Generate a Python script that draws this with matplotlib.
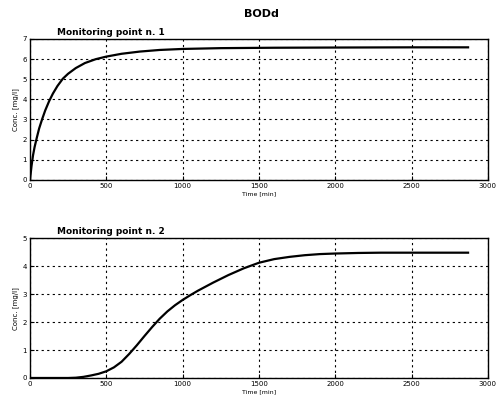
import numpy as np
import matplotlib.pyplot as plt

# BODd concentration, monitoring point 1
time_p1 = [0, 10, 20, 30, 45, 60, 80, 100, 125, 150, 180, 215, 250, 300, 360, 430,
           500, 600, 720, 850, 1000, 1250, 1600, 2000, 2500, 2870]
conc_p1 = [0, 0.68, 1.22, 1.62, 2.1, 2.55, 3.02, 3.45, 3.9, 4.28, 4.66, 5.02, 5.27,
           5.55, 5.8, 5.99, 6.12, 6.26, 6.37, 6.45, 6.5, 6.54, 6.56, 6.57, 6.58, 6.58]

# BODd concentration, monitoring point 2
time_p2 = [0, 250, 300, 350, 400, 450, 500, 550, 600, 650, 700, 750, 800, 850, 900,
           950, 1000, 1050, 1100, 1200, 1300, 1400, 1500, 1600, 1700, 1800, 1900,
           2000, 2150, 2300, 2870]
conc_p2 = [0, 0, 0.01, 0.04, 0.09, 0.15, 0.24, 0.38, 0.58, 0.86, 1.17, 1.5, 1.82,
           2.12, 2.38, 2.6, 2.79, 2.96, 3.12, 3.41, 3.68, 3.92, 4.12, 4.25, 4.33,
           4.39, 4.43, 4.45, 4.47, 4.48, 4.48]

xticks = np.arange(0, 3001, 500)

plt.rcParams['font.family'] = 'DejaVu Sans'
fig = plt.figure(figsize=(5.03, 4.05), dpi=100)
fig.text(0.52, 0.965, 'BODd', ha='center', va='center', fontsize=8, fontweight='bold')

panels = [
    ([0.0596, 0.556, 0.9104, 0.348], time_p1, conc_p1, 7, 'Monitoring point n. 1'),
    ([0.0596, 0.0667, 0.9104, 0.3453], time_p2, conc_p2, 5, 'Monitoring point n. 2'),
]

for rect, t, c, ymax, title in panels:
    ax = fig.add_axes(rect)
    ax.plot(t, c, color='black', lw=1.6)
    ax.set_xlim(0, 3000)
    ax.set_ylim(0, ymax)
    ax.set_xticks(xticks)
    ax.set_yticks(np.arange(0, ymax + 1, 1))
    ax.grid(True, color='black', linestyle=(0, (2, 3)), linewidth=0.8)
    ax.tick_params(direction='in', length=3, labelsize=5, pad=2, width=0.8)
    for s in ax.spines.values():
        s.set_linewidth(1.0)
    ax.set_title(title, loc='left', fontsize=6.5, fontweight='bold', pad=3, x=0.06)
    ax.set_xlabel('Time [min]', fontsize=4.5, labelpad=2)
    ax.set_ylabel('Conc. [mg/l]', fontsize=5, labelpad=3)

fig.savefig('out.png', dpi=100, facecolor='white')
